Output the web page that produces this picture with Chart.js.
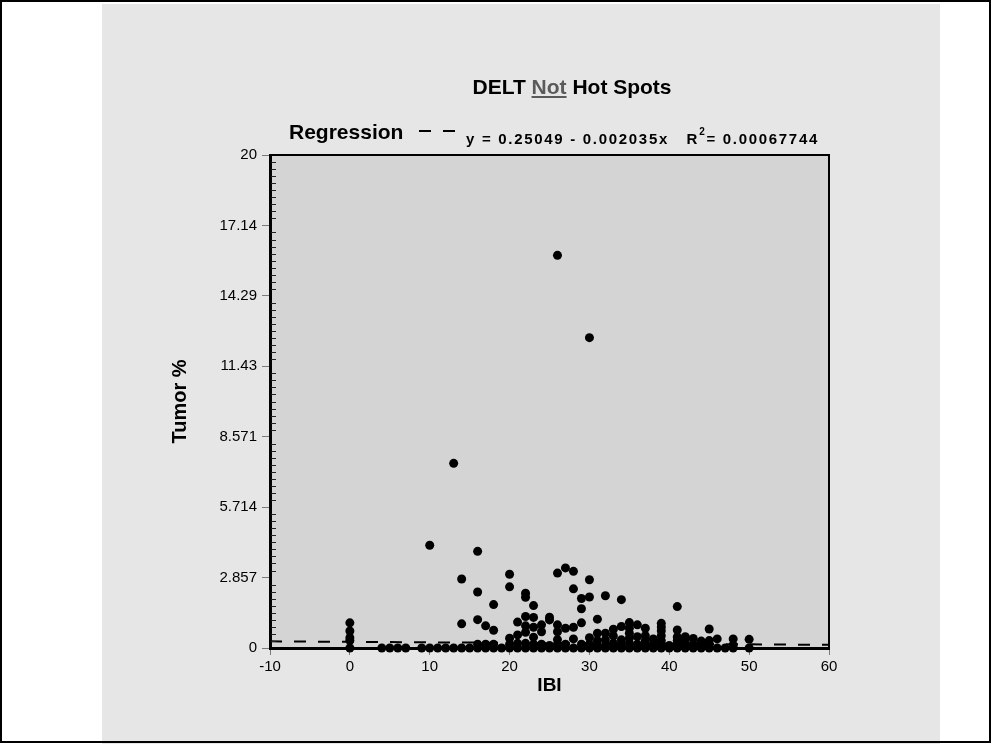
<!DOCTYPE html>
<html><head><meta charset="utf-8">
<style>html,body{margin:0;padding:0;background:#fff;}canvas{display:block}</style>
<script src="https://cdn.jsdelivr.net/npm/chart.js@4/dist/chart.umd.min.js"></script>
</head><body>
<canvas id="c" width="992" height="744"></canvas>
<script>
// ---- data ----
const xValues = [
 0,0,0,0,0,
 4,5,6,7,9,
 10,10, 11, 12, 13,13,
 14,14,14, 15,
 16,16,16,16,16,
 17,17,17,
 18,18,18,18,
 19,
 20,20,20,20,20,
 21,21,21,21,
 22,22,22,22,22,22,22,
 23,23,23,23,23,23,
 24,24,24,24,
 25,25,25,25,
 26,26,26,26,26,26,26,
 27,27,27,27,
 28,28,28,28,28,
 29,29,29,29,29,
 30,30,30,30,30,30,
 31,31,31,31,31,
 32,32,32,32,32,
 33,33,33,33,
 34,34,34,34,34,
 35,35,35,35,35,35,
 36,36,36,36,
 37,37,37,37,37,
 38,38,38,
 39,39,39,39,39,39,39,
 40,40,
 41,41,41,41,41,41,
 42,42,42,42,
 43,43,43,
 44,44,44,
 45,45,45,45,
 46,46,
 47,
 48,48,48,
 50,50
];
const yValues = [
 0,0.3,0.42,0.69,1.02,
 0,0,0,0,0,
 0,4.17, 0, 0, 0,7.49,
 0,0.98,2.8, 0,
 0,0.15,1.15,2.27,3.92,
 0,0.15,0.9,
 0,0.15,0.72,1.76,
 0,
 0,0.15,0.4,2.48,2.99,
 0,0.19,0.53,1.05,
 0,0.19,0.64,0.9,1.28,2.06,2.22,
 0,0.15,0.44,0.84,1.24,1.72,
 0,0.15,0.66,0.94,
 0,0.1,1.14,1.25,
 0,0.15,0.34,0.66,0.94,3.04,15.93,
 0,0.15,0.8,3.25,
 0,0.37,0.84,2.4,3.11,
 0,0.15,1.02,1.59,2.01,
 0,0.15,0.42,2.07,2.77,12.59,
 0,0.1,0.3,0.6,1.17,
 0,0.1,0.33,0.6,2.12,
 0,0.2,0.49,0.76,
 0,0.1,0.33,0.87,1.96,
 0,0.2,0.4,0.6,0.8,1.03,
 0,0.15,0.46,0.94,
 0,0.15,0.3,0.5,0.8,
 0,0.15,0.37,
 0,0.15,0.3,0.5,0.7,0.85,1.0,
 0,0.1,
 0,0.15,0.3,0.45,0.73,1.68,
 0,0.15,0.3,0.46,
 0,0.15,0.39,
 0,0.15,0.28,
 0,0.15,0.3,0.77,
 0,0.37,
 0,
 0,0.12,0.37,
 0,0.35
];
const regressionX = [-10, 60];
const regressionY = [0.27084, 0.12838];   // y = 0.25049 - 0.002035x
const xTickValues = [-10, 0, 10, 20, 30, 40, 50, 60];
const xTickLabels = ['-10','0','10','20','30','40','50','60'];
const yTickValues = [0, 2.857143, 5.714286, 8.571429, 11.428571, 14.285714, 17.142857, 20];
const yTickLabels = ['0','2.857','5.714','8.571','11.43','14.29','17.14','20'];
const titleParts = ['DELT ', 'Not', ' Hot Spots'];
const legendLabel = 'Regression';
const equationText = 'y = 0.25049 - 0.002035x   R';
const r2Text = '= 0.00067744';

const points = xValues.map((x, i) => ({x, y: yValues[i]}));
const regPoints = regressionX.map((x, i) => ({x, y: regressionY[i]}));

const FONT = '"Liberation Sans", Arial, Helvetica, sans-serif';

const backgroundPlugin = {
  id: 'bg',
  beforeDraw(chart) {
    const {ctx, chartArea: a} = chart;
    ctx.save();
    ctx.fillStyle = '#ffffff';
    ctx.fillRect(0, 0, 992, 744);
    ctx.fillStyle = '#e6e6e6';
    ctx.fillRect(102, 4, 838, 740);
    ctx.strokeStyle = '#000';
    ctx.lineWidth = 2;
    ctx.strokeRect(1, 1, 989, 741);
    ctx.fillStyle = '#d4d4d4';
    ctx.fillRect(a.left, a.top, a.right - a.left, a.bottom - a.top);
    ctx.restore();
  }
};

const framePlugin = {
  id: 'frame',
  afterDraw(chart) {
    const {ctx, chartArea: a} = chart;
    const ys = chart.scales.y;
    ctx.save();
    // top and right frame
    ctx.strokeStyle = '#000';
    ctx.lineWidth = 2;
    ctx.beginPath();
    ctx.moveTo(a.left, a.top);
    ctx.lineTo(a.right, a.top);
    ctx.lineTo(a.right, a.bottom);
    ctx.stroke();
    // minor ticks inside the left axis
    ctx.lineWidth = 1;
    ctx.strokeStyle = '#222';
    for (let i = 1; i < 70; i++) {
      if (i % 10 === 0) continue;
      const y = Math.round(ys.getPixelForValue(20 * i / 70)) + 0.5;
      ctx.beginPath();
      ctx.moveTo(a.left + 1, y);
      ctx.lineTo(a.left + 6, y);
      ctx.stroke();
    }
    // title
    ctx.textBaseline = 'alphabetic';
    ctx.font = 'bold 21px ' + FONT;
    const widths = titleParts.map(t => ctx.measureText(t).width);
    const total = widths.reduce((s, w) => s + w, 0);
    let x = 572 - total / 2;
    const ty = 94;
    titleParts.forEach((t, i) => {
      ctx.fillStyle = i === 1 ? '#5a5a5a' : '#000';
      ctx.fillText(t, x, ty);
      if (i === 1) {
        ctx.fillRect(x, ty + 2, widths[i], 2);
      }
      x += widths[i];
    });
    // legend
    ctx.fillStyle = '#000';
    ctx.font = 'bold 21px ' + FONT;
    ctx.fillText(legendLabel, 289, 139);
    ctx.strokeStyle = '#000';
    ctx.lineWidth = 2;
    ctx.setLineDash([12, 12]);
    ctx.beginPath();
    ctx.moveTo(419, 131);
    ctx.lineTo(455, 131);
    ctx.stroke();
    ctx.setLineDash([]);
    ctx.font = 'bold 15px ' + FONT;
    ctx.letterSpacing = '1.7px';
    let ex = 466;
    ctx.fillText(equationText, ex, 144);
    ex += ctx.measureText(equationText).width;
    ctx.font = 'bold 10px ' + FONT;
    ctx.fillText('2', ex, 135);
    ex += ctx.measureText('2').width;
    ctx.font = 'bold 15px ' + FONT;
    ctx.fillText(r2Text, ex, 144);
    ctx.restore();
  }
};

new Chart(document.getElementById('c'), {
  type: 'scatter',
  data: {
    datasets: [
      {
        type: 'line', label: 'Regression', data: regPoints,
        borderColor: '#000', borderWidth: 2, borderDash: [12, 12],
        pointRadius: 0, fill: false, clip: false, order: 2
      },
      {
        label: 'Tumor %', data: points,
        pointRadius: 4.5, pointBackgroundColor: '#000', pointBorderWidth: 0,
        pointBorderColor: '#000', clip: false, order: 1
      }
    ]
  },
  options: {
    responsive: false, animation: false, devicePixelRatio: 1,
    layout: {padding: {left: 0, right: 163, top: 155, bottom: 0}},
    plugins: {legend: {display: false}, tooltip: {enabled: false}},
    scales: {
      x: {
        type: 'linear', min: -10, max: 60,
        afterBuildTicks: s => { s.ticks = xTickValues.map(v => ({value: v})); },
        afterFit: s => { s.height = 96; },
        ticks: {callback: (v, i) => xTickLabels[i], color: '#000', font: {family: FONT, size: 15}, padding: 3, maxRotation: 0, autoSkip: false},
        grid: {drawOnChartArea: false, drawTicks: true, tickLength: 7, color: '#7a7a7a', lineWidth: 1},
        border: {color: '#000', width: 3},
        title: {display: true, text: 'IBI', color: '#000', font: {family: FONT, size: 19, weight: 'bold'}, padding: {top: 0, bottom: 47}}
      },
      y: {
        type: 'linear', min: 0, max: 20,
        afterBuildTicks: s => { s.ticks = yTickValues.map(v => ({value: v})); },
        afterFit: s => { s.width = 270; },
        ticks: {callback: (v, i) => yTickLabels[i], color: '#000', font: {family: FONT, size: 15}, padding: 5, autoSkip: false},
        grid: {drawOnChartArea: false, drawTicks: true, tickLength: 8, color: '#7a7a7a', lineWidth: 1},
        border: {color: '#000', width: 3},
        title: {display: true, text: 'Tumor %', color: '#000', font: {family: FONT, size: 20, weight: 'bold'}, padding: {top: 168, bottom: 0}}
      }
    }
  },
  plugins: [backgroundPlugin, framePlugin]
});
</script>
</body></html>
